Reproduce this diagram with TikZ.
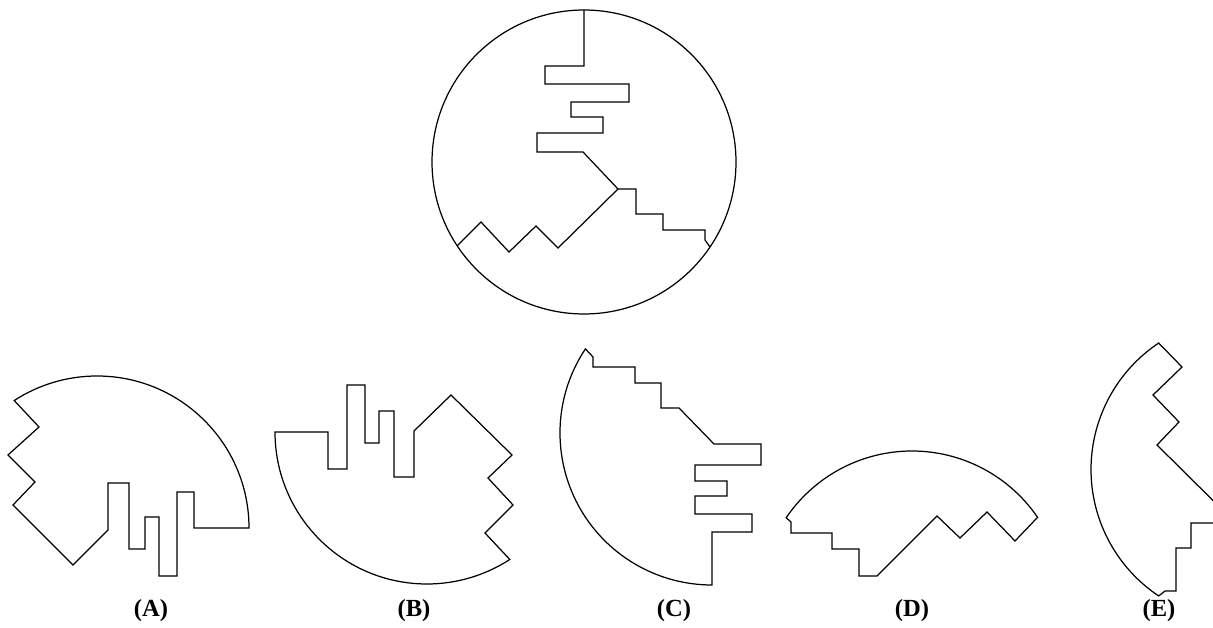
\documentclass[tikz,border=0pt]{standalone}
\usepackage{fontspec}
\setmainfont{Liberation Serif}
\usepackage{tikz}

\begin{document}
\begin{tikzpicture}[x=0.02cm,y=0.02cm,
    piece/.style={black,line width=0.7pt},
    lbl/.style={font=\bfseries\fontsize{14}{16}\selectfont}]
    \useasboundingbox (0,0) rectangle (1213,628);
    \clip (0,0) rectangle (1213,628);
    % the whole disc and its cuts
    \coordinate (c0) at (584,466);
    \coordinate (j) at (618,439);
    \draw[piece] (c0) circle (152);
    \draw[piece] (584,618) -- (584,562) -- (545,562) -- (545,544) -- (629,544) -- (629,526) -- (571,526) -- (571,511) -- (603,511) -- (603,495) -- (537,495) -- (537,476) -- (583,476) -- (j);
    \draw[piece] (j) -- (636,439) -- (636,414) -- (663,414) -- (663,398) -- (705,398) -- (705,388) -- (710,381);
    \draw[piece] (j) -- (558,380) -- (536,402) -- (509,376) -- (481,406) -- (457,382);
    % (A)
    \coordinate (cA) at (97,100);
    \draw[piece] (cA) ++(0:152) arc[start angle=0,end angle=123,radius=152] -- (39,201) -- (8,173) -- (35,146) -- (13,123) -- (73,63) -- (108,98) -- (108,145) -- (129,145) -- (129,79) -- (145,79) -- (145,111) -- (159,111) -- (159,52) -- (177,52) -- (177,136) -- (194,136) -- (194,100) -- cycle;
    % (B)
    \coordinate (cB) at (427,196);
    \draw[piece] (cB) ++(180:152) arc[start angle=180,end angle=303,radius=152] -- (485,95) -- (513,123) -- (488,150) -- (512,173) -- (451,233) -- (414,197) -- (414,151) -- (394,151) -- (394,217) -- (379,217) -- (379,185) -- (365,185) -- (365,243) -- (347,243) -- (347,159) -- (328,159) -- (328,196) -- cycle;
    % (C)
    \coordinate (cC) at (712,195);
    \draw[piece] (cC) ++(146.4:152) arc[start angle=146.4,end angle=270,radius=152] -- (712,96) -- (752,96) -- (752,114) -- (695,114) -- (695,132) -- (727,132) -- (727,147) -- (695,147) -- (695,163) -- (761,163) -- (761,184) -- (714,184) -- (679,220) -- (661,220) -- (661,245) -- (635,245) -- (635,261) -- (593,261) -- (593,271) -- cycle;
    % (D)
    \coordinate (cD) at (912,25);
    \draw[piece] (cD) ++(34.3:152) arc[start angle=34.3,end angle=145.9,radius=152] -- (791,106) -- (791,95) -- (832,95) -- (832,79) -- (859,79) -- (859,52) -- (877,52) -- (937,112) -- (960,90) -- (987,116) -- (1015,87) -- cycle;
    % (E)
    \coordinate (cE) at (1243,158.5);
    \draw[piece] (cE) ++(123.7:152) arc[start angle=123.7,end angle=236.3,radius=152] -- (1165,37) -- (1176,37) -- (1176,80) -- (1191,80) -- (1191,105) -- (1216,105) -- (1216,124.5) -- (1157,183) -- (1179,206) -- (1153,233) -- (1182,261) -- cycle;
    \foreach \n/\x in {A/151,B/414,C/674,D/912,E/1159}
        \node[lbl] (lab\n) at (\x,17) {(\n)};
\end{tikzpicture}
\end{document}
